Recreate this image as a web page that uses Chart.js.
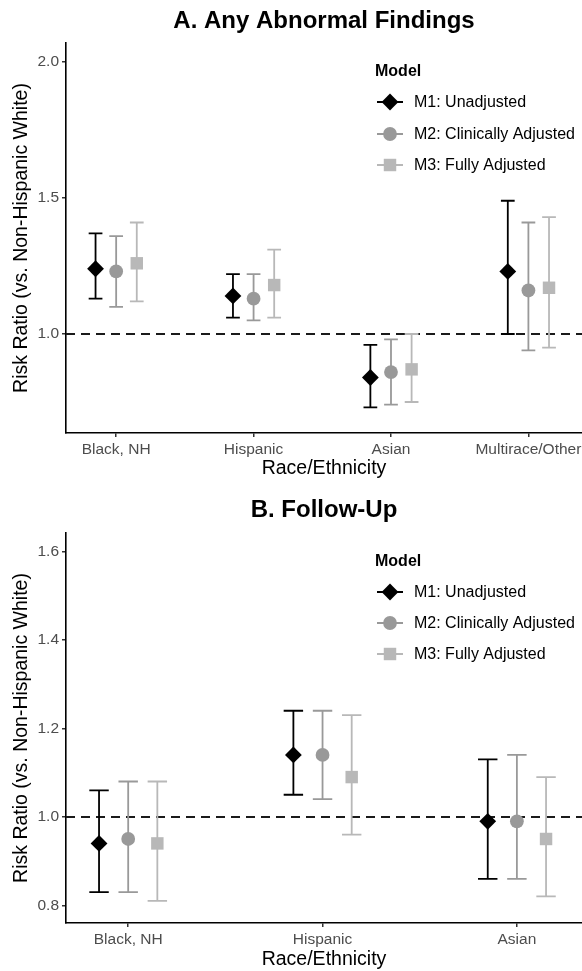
<!DOCTYPE html>
<html><head><meta charset="utf-8">
<script src="https://cdn.jsdelivr.net/npm/chart.js@4.4.1/dist/chart.umd.min.js"></script>
<style>
html,body{margin:0;padding:0;background:#fff;}
#wrap{position:relative;width:582px;height:971px;background:#fff;}
canvas{display:block;}
</style></head><body>
<div id="wrap">
<canvas id="cA" width="582" height="480"></canvas>
<canvas id="cB" width="582" height="491"></canvas>
</div>
<script>
// ---------- data ----------
const seriesNames = ['M1: Unadjusted', 'M2: Clinically Adjusted', 'M3: Fully Adjusted'];

// Panel A: Any Abnormal Findings
const categoriesA = ['Black, NH', 'Hispanic', 'Asian', 'Multirace/Other'];
const m1A   = [1.24, 1.14, 0.84, 1.23];
const m1ALo = [1.13, 1.06, 0.73, 1.00];
const m1AHi = [1.37, 1.22, 0.96, 1.49];
const m2A   = [1.23, 1.13, 0.86, 1.16];
const m2ALo = [1.10, 1.05, 0.74, 0.94];
const m2AHi = [1.36, 1.22, 0.98, 1.41];
const m3A   = [1.26, 1.18, 0.87, 1.17];
const m3ALo = [1.12, 1.06, 0.75, 0.95];
const m3AHi = [1.41, 1.31, 1.00, 1.43];
const yTicksA = [1.0, 1.5, 2.0];

// Panel B: Follow-Up
const categoriesB = ['Black, NH', 'Hispanic', 'Asian'];
const m1B   = [0.94, 1.14, 0.99];
const m1BLo = [0.83, 1.05, 0.86];
const m1BHi = [1.06, 1.24, 1.13];
const m2B   = [0.95, 1.14, 0.99];
const m2BLo = [0.83, 1.04, 0.86];
const m2BHi = [1.08, 1.24, 1.14];
const m3B   = [0.94, 1.09, 0.95];
const m3BLo = [0.81, 0.96, 0.82];
const m3BHi = [1.08, 1.23, 1.09];
const yTicksB = [0.8, 1.0, 1.2, 1.4, 1.6];

const refValue = 1.0;

// ---------- styles ----------
const FONT = "'Liberation Sans', Arial, Helvetica, sans-serif";
const colors = ['#000000', '#999999', '#b8b8b8'];
const shapes = ['rectRot', 'circle', 'rect'];
const radii = [8.4, 6.9, 8.8];
const dodge = [-0.15, 0, 0.15];
const capHalf = 0.05;

function drawShape(ctx, shape, r, x, y, color) {
  ctx.fillStyle = color;
  ctx.beginPath();
  if (shape === 'rectRot') {
    ctx.moveTo(x - r, y); ctx.lineTo(x, y - r); ctx.lineTo(x + r, y); ctx.lineTo(x, y + r); ctx.closePath();
  } else if (shape === 'circle') {
    ctx.arc(x, y, r, 0, Math.PI * 2);
  } else {
    const s = r * Math.SQRT1_2;
    ctx.rect(x - s, y - s, 2 * s, 2 * s);
  }
  ctx.fill();
}

const decor = {
  id: 'ggDecor',
  beforeDatasetsDraw(chart, args, opts) {
    const {ctx, chartArea: a, scales: {x, y}} = chart;
    ctx.save();
    // reference line
    const yy = y.getPixelForValue(refValue);
    ctx.strokeStyle = '#1a1a1a'; ctx.lineWidth = 2; ctx.setLineDash([9, 6]);
    ctx.beginPath(); ctx.moveTo(a.left, yy); ctx.lineTo(a.right, yy); ctx.stroke();
    ctx.setLineDash([]);
    // error bars
    chart.data.datasets.forEach(ds => {
      ctx.strokeStyle = ds.borderColor; ctx.lineWidth = 1.8;
      ds.data.forEach((pt, i) => {
        const px = x.getPixelForValue(pt.x);
        const hw = x.getPixelForValue(pt.x + capHalf) - px;
        const yl = y.getPixelForValue(ds.errLo[i]);
        const yh = y.getPixelForValue(ds.errHi[i]);
        ctx.beginPath();
        ctx.moveTo(px, yl); ctx.lineTo(px, yh);
        ctx.moveTo(px - hw, yl); ctx.lineTo(px + hw, yl);
        ctx.moveTo(px - hw, yh); ctx.lineTo(px + hw, yh);
        ctx.stroke();
      });
    });
    ctx.restore();
  },
  afterDraw(chart, args, opts) {
    const {ctx, chartArea: a} = chart;
    ctx.save();
    // title
    ctx.fillStyle = '#000';
    ctx.font = 'bold 24px ' + FONT;
    ctx.textAlign = 'center'; ctx.textBaseline = 'middle';
    ctx.fillText(opts.title, (a.left + a.right) / 2, opts.titleY);
    // legend
    ctx.textAlign = 'left';
    ctx.font = 'bold 16px ' + FONT;
    ctx.fillText('Model', 375, opts.legendY[0]);
    ctx.font = '16px ' + FONT;
    chart.data.datasets.forEach((ds, s) => {
      const ly = opts.legendY[s + 1];
      ctx.strokeStyle = ds.borderColor; ctx.lineWidth = 2;
      ctx.beginPath(); ctx.moveTo(377, ly); ctx.lineTo(403, ly); ctx.stroke();
      drawShape(ctx, shapes[s], radii[s], 390, ly, ds.backgroundColor);
      ctx.fillStyle = '#000';
      ctx.fillText(ds.label, 414, ly + 1);
    });
    ctx.restore();
  }
};

function buildChart(el, p) {
  const datasets = seriesNames.map((name, s) => ({
    label: name,
    data: p.categories.map((c, i) => ({x: i + dodge[s], y: p.est[s][i]})),
    errLo: p.lo[s], errHi: p.hi[s],
    pointStyle: shapes[s], pointRadius: radii[s], pointHoverRadius: radii[s],
    backgroundColor: colors[s], borderColor: colors[s], pointBorderWidth: 0,
    showLine: false
  }));
  return new Chart(el, {
    type: 'scatter',
    data: {datasets},
    options: {
      responsive: false, animation: false, devicePixelRatio: 1,
      events: [],
      layout: {autoPadding: false, padding: {top: p.padTop, left: 0, right: 0, bottom: 0}},
      plugins: {
        legend: {display: false}, tooltip: {enabled: false},
        ggDecor: {title: p.title, titleY: p.titleY, legendY: p.legendY}
      },
      scales: {
        x: {
          type: 'linear', min: p.xMin, max: p.xMax, offset: false,
          afterBuildTicks: s => { s.ticks = p.categories.map((c, i) => ({value: i})); },
          afterFit: s => { s.height = p.xAxisH; s.paddingLeft = 0; s.paddingRight = 0; },
          ticks: {
            callback: v => (p.categories[v] !== undefined ? p.categories[v] : ''),
            color: '#4d4d4d', font: {size: 15.5, family: FONT}, padding: 3,
            maxRotation: 0, minRotation: 0, autoSkip: false
          },
          grid: {display: true, drawOnChartArea: false, drawTicks: true, tickLength: 4, color: '#333333', lineWidth: 1.5},
          border: {display: true, color: '#000', width: 1.6},
          title: {display: true, text: 'Race/Ethnicity', color: '#000', font: {size: 19.5, family: FONT}, padding: {top: 0, bottom: 0}}
        },
        y: {
          type: 'linear', min: p.yMin, max: p.yMax,
          afterBuildTicks: s => { s.ticks = p.yTicks.map(v => ({value: v})); },
          afterFit: s => { s.width = 66; s.paddingTop = 0; s.paddingBottom = 0; },
          ticks: {
            callback: v => Number(v).toFixed(1),
            color: '#4d4d4d', font: {size: 15.5, family: FONT}, padding: 3
          },
          grid: {display: true, drawOnChartArea: false, drawTicks: true, tickLength: 4, color: '#333333', lineWidth: 1.5},
          border: {display: true, color: '#000', width: 1.6},
          title: {display: true, text: 'Risk Ratio (vs. Non-Hispanic White)', color: '#000', font: {size: 19.5, family: FONT}, padding: {top: 10, bottom: 0}}
        }
      }
    },
    plugins: [decor]
  });
}

Chart.defaults.font.family = FONT;

buildChart(document.getElementById('cA'), {
  categories: categoriesA,
  est: [m1A, m2A, m3A], lo: [m1ALo, m2ALo, m3ALo], hi: [m1AHi, m2AHi, m3AHi],
  yTicks: yTicksA, yMin: 0.636, yMax: 2.07, xMin: -0.365, xMax: 3.39,
  padTop: 43, xAxisH: 47,
  title: 'A. Any Abnormal Findings', titleY: 21, legendY: [72, 102, 134, 165]
});

buildChart(document.getElementById('cB'), {
  categories: categoriesB,
  est: [m1B, m2B, m3B], lo: [m1BLo, m2BLo, m3BLo], hi: [m1BHi, m2BHi, m3BHi],
  yTicks: yTicksB, yMin: 0.76, yMax: 1.642, xMin: -0.32, xMax: 2.335,
  padTop: 53, xAxisH: 48,
  title: 'B. Follow-Up', titleY: 30, legendY: [82, 112, 143, 174]
});
</script>
</body></html>
